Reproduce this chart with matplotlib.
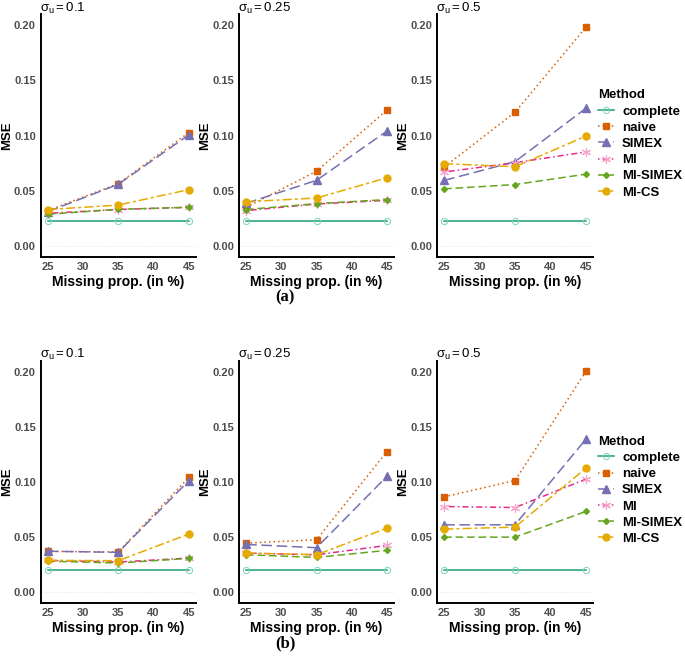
import matplotlib
matplotlib.use("Agg")
import matplotlib.pyplot as plt

W, H = 685, 658

methods = ["complete", "naive", "SIMEX", "MI", "MI-SIMEX", "MI-CS"]
missing = [25, 35, 45]
sigmas = ["0.1", "0.25", "0.5"]

# (a) top row: values per sigma panel, per method (25, 35, 45)
a_s01 = {
    "complete": [0.023, 0.023, 0.023],
    "naive":    [0.032, 0.0564, 0.1026],
    "SIMEX":    [0.031, 0.0558, 0.1005],
    "MI":       [0.0296, 0.033, 0.035],
    "MI-SIMEX": [0.0287, 0.0332, 0.035],
    "MI-CS":    [0.033, 0.037, 0.051],
}
a_s025 = {
    "complete": [0.023, 0.023, 0.023],
    "naive":    [0.035, 0.0676, 0.123],
    "SIMEX":    [0.0386, 0.0594, 0.104],
    "MI":       [0.032, 0.038, 0.0413],
    "MI-SIMEX": [0.033, 0.0383, 0.042],
    "MI-CS":    [0.040, 0.0434, 0.0617],
}
a_s05 = {
    "complete": [0.023, 0.023, 0.023],
    "naive":    [0.0714, 0.121, 0.198],
    "SIMEX":    [0.0593, 0.0763, 0.1246],
    "MI":       [0.0669, 0.0754, 0.0851],
    "MI-SIMEX": [0.0517, 0.0556, 0.065],
    "MI-CS":    [0.0745, 0.0717, 0.0994],
}
# (b) bottom row
b_s01 = {
    "complete": [0.0196, 0.0196, 0.0196],
    "naive":    [0.0369, 0.0363, 0.104],
    "SIMEX":    [0.037, 0.036, 0.101],
    "MI":       [0.0287, 0.0272, 0.0308],
    "MI-SIMEX": [0.028, 0.0263, 0.0305],
    "MI-CS":    [0.0287, 0.0284, 0.0526],
}
b_s025 = {
    "complete": [0.0196, 0.0196, 0.0196],
    "naive":    [0.0444, 0.0474, 0.1275],
    "SIMEX":    [0.0432, 0.0402, 0.105],
    "MI":       [0.0353, 0.0338, 0.0423],
    "MI-SIMEX": [0.0338, 0.0314, 0.0378],
    "MI-CS":    [0.0353, 0.0338, 0.058],
}
b_s05 = {
    "complete": [0.0196, 0.0196, 0.0196],
    "naive":    [0.0864, 0.1012, 0.2003],
    "SIMEX":    [0.061, 0.061, 0.1387],
    "MI":       [0.0776, 0.0767, 0.1024],
    "MI-SIMEX": [0.0498, 0.0498, 0.0731],
    "MI-CS":    [0.0571, 0.0589, 0.1124],
}

yticks = [0.00, 0.05, 0.10, 0.15, 0.20]
xticks = [25, 30, 35, 40, 45]

colors = {"complete": "#1B9E77", "naive": "#D95F02", "SIMEX": "#7570B3",
          "MI": "#E7298A", "MI-SIMEX": "#66A61E", "MI-CS": "#E6AB02"}
styles = {"complete": "-", "naive": (0, (1, 2)), "SIMEX": (0, (7, 3)),
          "MI": (0, (1, 2, 4, 2)), "MI-SIMEX": (0, (5, 2.5)), "MI-CS": (0, (6, 2, 2, 2))}
markers = {"complete": ("o", 4.5), "naive": ("s", 5), "SIMEX": ("^", 5.5),
           "MI": ((6, 2, 0), 6.5), "MI-SIMEX": ("D", 3), "MI-CS": ("o", 5)}

fig = plt.figure(figsize=(W / 100, H / 100), dpi=100)
fig.patch.set_facecolor("white")

SANS = ["Liberation Sans", "DejaVu Sans"]
plt.rcParams["font.family"] = SANS
plt.rcParams["mathtext.fontset"] = "custom"
plt.rcParams["mathtext.rm"] = "Liberation Sans"
plt.rcParams["mathtext.it"] = "Liberation Sans"


def px_axes(x0, y0, x1, y1):
    return fig.add_axes([x0 / W, 1 - y1 / H, (x1 - x0) / W, (y1 - y0) / H])


def draw_panel(ax, data, sig, x0, y0, legend=False):
    for m in methods:
        mk, ms = markers[m]
        kw = dict(color=colors[m], linestyle=styles[m], linewidth=1.1,
                  marker=mk, markersize=ms, label=m)
        if m == "complete":
            kw["markerfacecolor"] = "none"
            kw["markeredgewidth"] = 0.7
            kw["markeredgecolor"] = "#7FD3B8"
        if m == "MI":
            kw["markeredgecolor"] = "#F4A3CC"
            kw["markeredgewidth"] = 0.8
        ax.plot(missing, data[m], **kw)
    ax.set_xlim(24, 46)
    ax.set_ylim(-0.01, 0.21)
    ax.set_xticks(xticks)
    ax.set_yticks(yticks)
    ax.set_yticklabels([f"{v:.2f}" for v in yticks])
    ax.tick_params(length=0, labelsize=8, labelcolor="#4D4D4D", pad=3.5)
    for lab in ax.get_xticklabels() + ax.get_yticklabels():
        lab.set_fontweight("bold")
    ax.axhline(0, color="#DDDDDD", linestyle=(0, (1, 2)), linewidth=0.6, zorder=0)
    for s in ["top", "right"]:
        ax.spines[s].set_visible(False)
    for s in ["left", "bottom"]:
        ax.spines[s].set_linewidth(1.4)
    ax.set_xlabel("Missing prop. (in %)", fontsize=10, fontweight="bold", labelpad=2)
    ax.set_ylabel("MSE", fontsize=9.5, fontweight="bold", labelpad=0.5)
    ty = max(y0 - 14, 0.5)
    fig.text((x0 - 1) / W, 1 - ty / H, r"$\sigma_u = " + sig + "$",
             ha="left", va="top", fontsize=9.5)
    if legend:
        h, l = ax.get_legend_handles_labels()
        leg = ax.legend(h, l, title="Method", loc="center left", bbox_to_anchor=(1.0, 0.465),
                        frameon=False, fontsize=9.5, handlelength=1.2, handletextpad=0.6,
                        labelspacing=0.3, borderaxespad=0)
        leg.get_title().set_fontweight("bold")
        leg.get_title().set_fontsize(9.5)
        leg._legend_box.align = "left"
        for t in leg.get_texts():
            t.set_fontweight("bold")


top = [(40.7, 195.8), (239, 394), (437, 593)]
rows = [((14, 257), [a_s01, a_s025, a_s05]), ((360.7, 603), [b_s01, b_s025, b_s05])]

for ri, ((y0, y1), datas) in enumerate(rows):
    for ci, ((x0, x1), d) in enumerate(zip(top, datas)):
        ax = px_axes(x0, y0, x1, y1)
        draw_panel(ax, d, sigmas[ci], x0, y0, legend=(ci == 2))

fig.text(285 / W, 1 - 297 / H, "(a)", ha="center", va="center", fontsize=12,
         fontweight="bold", family=["Liberation Serif", "DejaVu Serif"])
fig.text(285 / W, 1 - 643 / H, "(b)", ha="center", va="center", fontsize=12,
         fontweight="bold", family=["Liberation Serif", "DejaVu Serif"])

fig.savefig("out.png", dpi=100, facecolor="white")
